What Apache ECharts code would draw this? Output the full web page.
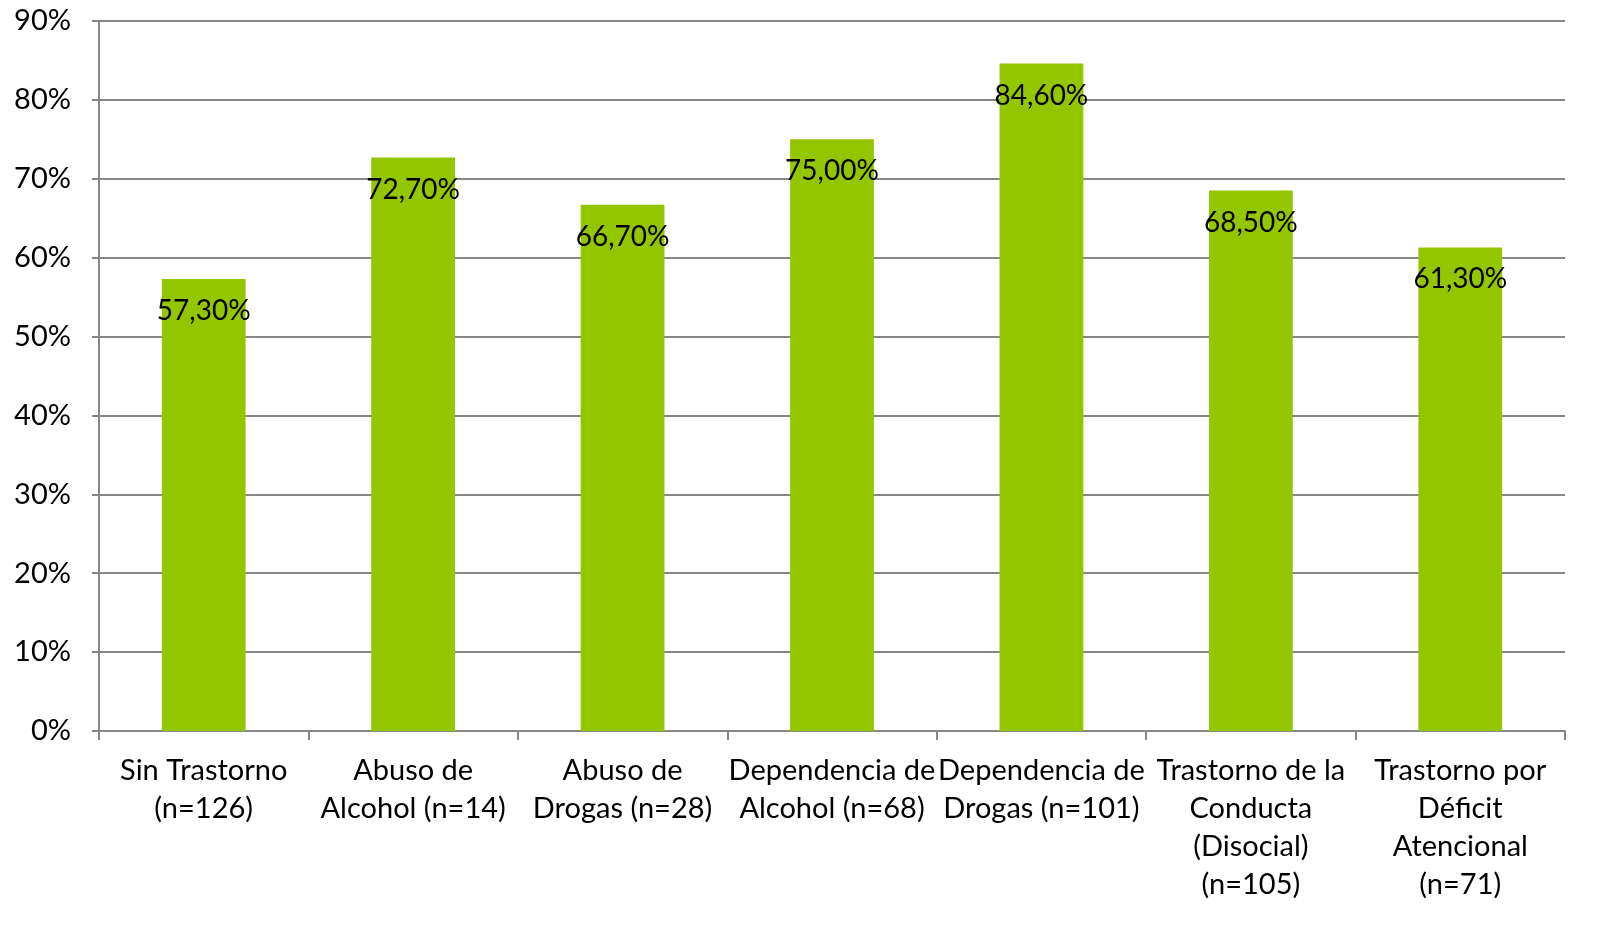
<!DOCTYPE html>
<html><head><meta charset="utf-8">
<script src="https://cdn.jsdelivr.net/npm/echarts@6/dist/echarts.min.js"></script>
<style>html,body{margin:0;padding:0;background:#fff}#c{width:1608px;height:925px}</style>
</head><body><div id="c"></div>
<script>
const categories = ["Sin Trastorno\n(n=126)", "Abuso de\nAlcohol (n=14)", "Abuso de\nDrogas (n=28)", "Dependencia de\nAlcohol (n=68)", "Dependencia de\nDrogas (n=101)", "Trastorno de la\nConducta\n(Disocial)\n(n=105)", "Trastorno por\nDéficit\nAtencional\n(n=71)"];
const values = [57.3, 72.7, 66.7, 75.0, 84.6, 68.5, 61.3];
const yTicks = [0, 10, 20, 30, 40, 50, 60, 70, 80, 90];

const chart = echarts.init(document.getElementById('c'));
chart.setOption({
  animation: false,
  grid: {left: 99, right: 43, top: 21, bottom: 194, containLabel: false},
  xAxis: {
    type: 'category', data: categories,
    axisLine: {lineStyle: {color: '#868686', width: 2}},
    axisTick: {show: true, alignWithLabel: false, length: 9, lineStyle: {color: '#868686', width: 2}},
    axisLabel: {interval: 0, color: '#000', fontFamily: 'Lato', fontSize: 29, lineHeight: 38, margin: 21}
  },
  yAxis: {
    type: 'value', min: 0, max: 90, interval: 10,
    axisLine: {show: true, lineStyle: {color: '#868686', width: 2}},
    axisTick: {show: true, length: 7, lineStyle: {color: '#868686', width: 2}},
    splitLine: {lineStyle: {color: '#868686', width: 2}},
    axisLabel: {color: '#000', fontFamily: 'Lato', fontSize: 29, margin: 28,
      formatter: v => yTicks.includes(v) ? v + '%' : ''}
  },
  series: [{
    type: 'bar', data: values, barWidth: '40%',
    itemStyle: {color: '#94C600'},
    label: {show: true, position: 'insideTop', distance: 18, color: '#000', fontFamily: 'Lato', fontSize: 28,
      formatter: p => p.value.toFixed(2).replace('.', ',') + '%'}
  }]
});
</script></body></html>
